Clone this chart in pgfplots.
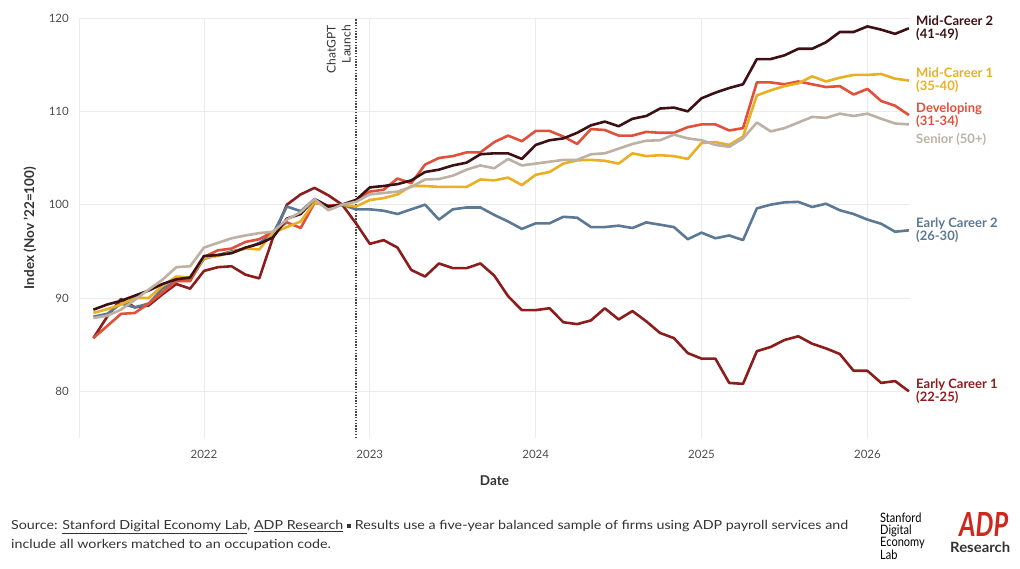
\documentclass[border=0pt]{standalone}
\usepackage{fontspec}
\setmainfont{Lato}
\newfontfamily\condensed[FakeStretch=0.85]{Lato}
\usepackage{graphicx}
\usepackage{pgfplots}
\pgfplotsset{compat=1.18}
\usepackage{pgfplotstable}

\definecolor{econe}{HTML}{8C1D1D}
\definecolor{ectwo}{HTML}{5B7894}
\definecolor{dev}{HTML}{E0503A}
\definecolor{mcone}{HTML}{E8B022}
\definecolor{mctwo}{HTML}{3D1114}
\definecolor{senior}{HTML}{BDB0A4}
\definecolor{gridgray}{HTML}{EBEBEB}
\definecolor{txt}{HTML}{333333}
\definecolor{ticktxt}{HTML}{4D4D4D}
\definecolor{adpred}{HTML}{D0271D}

% m = months since Jan 2022
\pgfplotstableread{
m ec1 ec2 dev mc1 mc2 sen
-8 85.7 88.0 85.7 88.4 88.75 87.85
-7 88.0 88.3 87.0 88.8 89.3 88.1
-6 89.9 89.4 88.3 89.3 89.7 88.75
-5 89.0 89.0 88.4 90.0 90.25 89.8
-4 89.2 89.4 89.4 90.0 90.8 90.9
-3 90.4 91.0 90.6 91.3 91.5 91.96
-2 91.5 91.8 91.8 92.3 92.0 93.3
-1 91.0 92.0 91.8 92.2 92.2 93.4
0 92.9 94.2 94.4 94.3 94.5 95.4
1 93.3 94.6 95.1 94.5 94.6 95.9
2 93.4 95.0 95.3 94.9 94.8 96.4
3 92.5 95.3 96.0 95.3 95.4 96.7
4 92.1 95.9 96.3 95.2 95.8 96.95
5 96.5 96.9 97.1 97.0 96.5 97.1
6 100.0 99.8 98.1 97.6 98.5 98.4
7 101.1 99.3 97.5 98.2 99.0 99.2
8 101.8 100.6 100.2 100.3 100.6 100.6
9 101.0 99.8 99.9 99.7 99.8 99.4
10 100 100 100 100 100 100
11 98.0 99.5 100.5 99.8 100.5 100.3
12 95.8 99.5 101.4 100.5 101.85 101.1
13 96.2 99.35 101.6 100.7 102.0 101.25
14 95.4 99.0 102.8 101.1 102.2 101.4
15 93.0 99.5 102.3 102.0 102.6 101.9
16 92.3 100.0 104.3 102.0 103.5 102.7
17 93.7 98.4 105.0 101.9 103.75 102.75
18 93.2 99.5 105.2 101.9 104.2 103.1
19 93.2 99.7 105.6 101.9 104.5 103.75
20 93.7 99.7 105.6 102.7 105.4 104.2
21 92.4 98.9 106.7 102.6 105.5 103.9
22 90.2 98.2 107.4 102.9 105.5 104.9
23 88.7 97.4 106.8 102.1 104.9 104.2
24 88.7 98.0 107.9 103.2 106.4 104.4
25 88.9 98.0 107.9 103.5 106.9 104.6
26 87.4 98.7 107.3 104.4 107.1 104.8
27 87.2 98.6 106.5 104.75 107.7 104.8
28 87.6 97.6 108.1 104.8 108.5 105.4
29 88.9 97.6 108.0 104.7 108.9 105.5
30 87.7 97.75 107.4 104.4 108.4 106.0
31 88.6 97.5 107.4 105.5 109.2 106.5
32 87.5 98.1 107.8 105.2 109.5 106.85
33 86.25 97.85 107.7 105.3 110.3 106.9
34 85.7 97.6 107.7 105.2 110.4 107.5
35 84.1 96.3 108.3 104.9 110.0 107.1
36 83.5 97.0 108.6 106.6 111.4 106.9
37 83.5 96.4 108.6 106.7 112.0 106.4
38 80.9 96.7 107.95 106.4 112.5 106.2
39 80.8 96.2 108.2 107.3 112.9 107.1
40 84.3 99.6 113.1 111.7 115.6 108.8
41 84.75 100.0 113.1 112.25 115.6 107.85
42 85.5 100.25 112.9 112.7 116.0 108.2
43 85.9 100.3 113.2 113.0 116.7 108.8
44 85.1 99.75 112.9 113.75 116.7 109.4
45 84.6 100.1 112.6 113.2 117.4 109.3
46 84.0 99.4 112.7 113.6 118.5 109.75
47 82.2 99.0 111.8 113.9 118.5 109.5
48 82.2 98.4 112.4 113.9 119.1 109.75
49 80.9 97.95 111.1 114.0 118.75 109.2
50 81.1 97.1 110.6 113.5 118.3 108.7
51 80.0 97.25 109.6 113.3 118.9 108.6
}\datatable

\begin{document}
\begin{tikzpicture}
\path[use as bounding box] (0,0) rectangle (1020pt,569pt);
\begin{axis}[
  at={(79pt,131pt)}, anchor=south west,
  scale only axis, width=831pt, height=420pt,
  xmin=-9.04, xmax=51.08, ymin=75, ymax=120,
  xtick={0,12,24,36,48}, xticklabels={2022,2023,2024,2025,2026},
  ytick={80,90,100,110,120},
  extra x ticks={-9.04}, extra x tick labels={},
  grid=major, major grid style={draw=gridgray, line width=0.8pt},
  axis line style={draw=none},
  major tick length=0pt, tick style={draw=none},
  /pgf/number format/assume math mode=true,
  tick label style={font=\fontsize{11.5}{12}\selectfont, text=ticktxt},
  yticklabel style={inner sep=0pt, xshift=-10pt},
  xticklabel style={inner sep=0pt, yshift=-12pt},
  clip=false,
  every axis plot/.append style={line width=2.6pt, line join=round, mark=none},
]
\draw[txt!90, line width=1.6pt, dash pattern=on 1.4pt off 1.4pt] (axis cs:11,75) -- (axis cs:11,120);
\node[rotate=90, anchor=south east, align=right, inner sep=0pt, text=txt,
  font=\fontsize{12}{15}\selectfont] at ([xshift=-5pt,yshift=-7pt]axis cs:11,120) {ChatGPT\\Launch};

\addplot[econe] table[x=m,y=ec1]{\datatable};
\addplot[ectwo] table[x=m,y=ec2]{\datatable};
\addplot[dev] table[x=m,y=dev]{\datatable};
\addplot[mcone] table[x=m,y=mc1]{\datatable};
\addplot[mctwo] table[x=m,y=mc2]{\datatable};
\addplot[senior] table[x=m,y=sen]{\datatable};

\tikzset{lab/.style={anchor=west, align=left, inner sep=0pt, font=\bfseries\fontsize{13}{13}\selectfont}}
\node[lab, text=mctwo] at ([xshift=6pt]axis cs:51.08,118.9) {Mid-Career 2\\(41-49)};
\node[lab, text=mcone] at ([xshift=6pt]axis cs:51.08,113.3) {Mid-Career 1\\(35-40)};
\node[lab, text=dev] at ([xshift=6pt]axis cs:51.08,109.6) {Developing\\(31-34)};
\node[lab, text=senior] at ([xshift=6pt]axis cs:51.08,106.97) {Senior (50+)};
\node[lab, text=ectwo] at ([xshift=6pt]axis cs:51.08,97.25) {Early Career 2\\(26-30)};
\node[lab, text=econe] at ([xshift=6pt]axis cs:51.08,80.0) {Early Career 1\\(22-25)};
\end{axis}

\node[anchor=base, text=txt, font=\bfseries\fontsize{13.5}{14}\selectfont] at (494.5pt,83pt) {Date};
\node[rotate=90, text=txt, font=\bfseries\fontsize{13.5}{14}\selectfont] at (30pt,341pt) {Index (Nov '22=100)};

\node[anchor=base west, inner sep=0pt, text=txt] at (11pt,39pt)
 {\resizebox{837pt}{\height}{\condensed\fontsize{12.5}{19}\selectfont
  \begin{tabular}[t]{@{}l@{}}
  Source: \underline{Stanford Digital Economy Lab}, \underline{ADP Research} \raisebox{2.3pt}{\rule{3.2pt}{3.2pt}} Results use a five-year balanced sample of firms using ADP payroll services and\\
  include all workers matched to an occupation code.
  \end{tabular}}};

\node[anchor=north west, inner sep=0pt, align=left, text=black,
  font=\condensed\fontsize{13}{11.3}\selectfont] at (880pt,56pt) {Stanford\\Digital\\Economy\\Lab};
\node[anchor=north west, inner sep=0pt, text=adpred] at (959pt,57pt)
  {\resizebox{49pt}{24pt}{\bfseries\itshape ADP}};
\node[anchor=south west, inner sep=0pt, text=txt] at (950pt,16pt)
  {\resizebox{60pt}{10.5pt}{\condensed\bfseries Research}};
\end{tikzpicture}
\end{document}
